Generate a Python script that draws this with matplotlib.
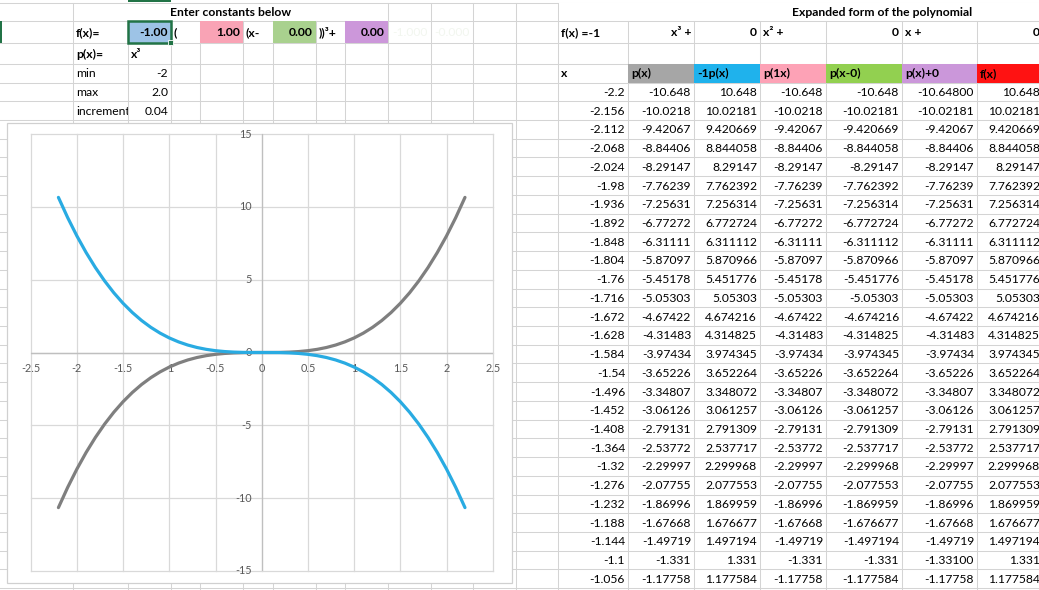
import matplotlib.pyplot as plt
from matplotlib.patches import Rectangle

plt.rcParams['font.family'] = ['Lato', 'DejaVu Sans']

# points of the two curves in the chart (p(x) = x^3 in grey, f(x) in blue)
curve_x = [-2.2, -2.1, -2.0, -1.9, -1.8, -1.7, -1.6, -1.5, -1.4, -1.3, -1.2, -1.1,
           -1.0, -0.9, -0.8, -0.7, -0.6, -0.5, -0.4, -0.3, -0.2, -0.1, 0.0,
           0.1, 0.2, 0.3, 0.4, 0.5, 0.6, 0.7, 0.8, 0.9, 1.0, 1.1, 1.2,
           1.3, 1.4, 1.5, 1.6, 1.7, 1.8, 1.9, 2.0, 2.1, 2.2]
curve_p = [-10.648, -9.261, -8.0, -6.859, -5.832, -4.913, -4.096, -3.375, -2.744, -2.197, -1.728, -1.331,
           -1.0, -0.729, -0.512, -0.343, -0.216, -0.125, -0.064, -0.027, -0.008, -0.001, 0.0,
           0.001, 0.008, 0.027, 0.064, 0.125, 0.216, 0.343, 0.512, 0.729, 1.0, 1.331, 1.728,
           2.197, 2.744, 3.375, 4.096, 4.913, 5.832, 6.859, 8.0, 9.261, 10.648]
curve_f = [10.648, 9.261, 8.0, 6.859, 5.832, 4.913, 4.096, 3.375, 2.744, 2.197, 1.728, 1.331,
           1.0, 0.729, 0.512, 0.343, 0.216, 0.125, 0.064, 0.027, 0.008, 0.001, 0.0,
           -0.001, -0.008, -0.027, -0.064, -0.125, -0.216, -0.343, -0.512, -0.729, -1.0, -1.331, -1.728,
           -2.197, -2.744, -3.375, -4.096, -4.913, -5.832, -6.859, -8.0, -9.261, -10.648]

x_ticks = [-2.5, -2, -1.5, -1, -0.5, 0, 0.5, 1, 1.5, 2, 2.5]
x_labels = ['-2.5', '-2', '-1.5', '-1', '-0.5', '0', '0.5', '1', '1.5', '2', '2.5']
y_ticks = [-15, -10, -5, 0, 5, 10, 15]
y_labels = ['-15', '-10', '-5', '0', '5', '10', '15']

# table on the right, as shown in the cells
tbl_x = ["-2.2", "-2.156", "-2.112", "-2.068", "-2.024", "-1.98", "-1.936", "-1.892", "-1.848",
         "-1.804", "-1.76", "-1.716", "-1.672", "-1.628", "-1.584", "-1.54", "-1.496", "-1.452",
         "-1.408", "-1.364", "-1.32", "-1.276", "-1.232", "-1.188", "-1.144", "-1.1", "-1.056"]
tbl_p = ["-10.648", "-10.0218", "-9.42067", "-8.84406", "-8.29147", "-7.76239", "-7.25631", "-6.77272",
         "-6.31111", "-5.87097", "-5.45178", "-5.05303", "-4.67422", "-4.31483", "-3.97434", "-3.65226",
         "-3.34807", "-3.06126", "-2.79131", "-2.53772", "-2.29997", "-2.07755", "-1.86996", "-1.67668",
         "-1.49719", "-1.331", "-1.17758"]
tbl_neg_p = ["10.648", "10.02181", "9.420669", "8.844058", "8.29147", "7.762392", "7.256314", "6.772724",
             "6.311112", "5.870966", "5.451776", "5.05303", "4.674216", "4.314825", "3.974345", "3.652264",
             "3.348072", "3.061257", "2.791309", "2.537717", "2.299968", "2.077553", "1.869959", "1.676677",
             "1.497194", "1.331", "1.177584"]
tbl_p1x = list(tbl_p)
tbl_pxm0 = ["-10.648", "-10.02181", "-9.420669", "-8.844058", "-8.29147", "-7.762392", "-7.256314",
            "-6.772724", "-6.311112", "-5.870966", "-5.451776", "-5.05303", "-4.674216", "-4.314825",
            "-3.974345", "-3.652264", "-3.348072", "-3.061257", "-2.791309", "-2.537717", "-2.299968",
            "-2.077553", "-1.869959", "-1.676677", "-1.497194", "-1.331", "-1.177584"]
tbl_pplus0 = ["-10.64800", "-10.02181", "-9.42067", "-8.84406", "-8.29147", "-7.76239", "-7.25631",
              "-6.77272", "-6.31111", "-5.87097", "-5.45178", "-5.05303", "-4.67422", "-4.31483",
              "-3.97434", "-3.65226", "-3.34807", "-3.06126", "-2.79131", "-2.53772", "-2.29997",
              "-2.07755", "-1.86996", "-1.67668", "-1.49719", "-1.33100", "-1.17758"]
tbl_f = list(tbl_neg_p)
tbl_headers = ['p(x)', '-1p(x)', 'p(1x)', 'p(x-0)', 'p(x)+0', 'f(x)']

W, H = 1039, 590
fig = plt.figure(figsize=(W / 100, H / 100), dpi=100)
bg = fig.add_axes([0, 0, 1, 1])
bg.set_xlim(0, W)
bg.set_ylim(H, 0)
bg.axis('off')

grid_c = '#d4d4d4'
fs = 8.7

# sheet geometry in pixels
cols = [73, 128, 171, 200, 243, 273, 316, 345, 388, 431, 473, 516, 558, 628, 694, 760, 826, 902, 977, 1043]
rows = [2.7, 20.7, 43, 64, 82.5] + [82.5 + 18.73 * k for k in range(1, 28)]

for y in rows:
    bg.plot([0, W], [y, y], color=grid_c, lw=0.75, zorder=1)
for x in cols:
    y0 = rows[1] if x not in (73, 388, 431, 473, 516, 558) else rows[0]
    bg.plot([x, x], [y0, H], color=grid_c, lw=0.75, zorder=1)


def cell_fill(x0, x1, r, color):
    bg.add_patch(Rectangle((x0, rows[r]), x1 - x0, rows[r + 1] - rows[r],
                           facecolor=color, edgecolor='none', zorder=2))


def cell_text(x, r, s, ha='left', bold=False, color='black', size=fs):
    yc = (rows[r] + rows[r + 1]) / 2 + 0.5
    xx = x + 3 if ha == 'left' else x - 3
    return bg.text(xx, yc, s, ha=ha, va='center', fontsize=size, color=color,
                   fontweight='bold' if bold else 'normal', zorder=4)


# constants row
cell_fill(128, 171, 1, '#9dc3e6')
cell_fill(200, 243, 1, '#f9a3b5')
cell_fill(273, 316, 1, '#a9d18e')
cell_fill(345, 388, 1, '#cc97da')

bg.text((73 + 388) / 2, (rows[0] + rows[1]) / 2 + 0.5, 'Enter constants below', ha='center',
        va='center', fontsize=fs, fontweight='bold', zorder=4)
cell_text(73, 1, 'f(x)=', bold=True)
cell_text(171, 1, '-1.00', ha='right', bold=True)
cell_text(171, 1, '(', bold=True)
cell_text(243, 1, '1.00', ha='right', bold=True)
cell_text(243, 1, '(x-', bold=True)
cell_text(316, 1, '0.00', ha='right', bold=True)
cell_text(316, 1, '))³+', bold=True)
cell_text(388, 1, '0.00', ha='right', bold=True)
cell_text(431, 1, '-1.000', ha='right', color='#f2f6ef')
cell_text(473, 1, '-0.000', ha='right', color='#f2f6ef')
cell_text(73, 2, 'p(x)=', bold=True)
cell_text(128, 2, 'x³', bold=True)
cell_text(73, 3, 'min')
cell_text(171, 3, '-2', ha='right')
cell_text(73, 4, 'max')
cell_text(171, 4, '2.0', ha='right')
t = cell_text(73, 5, 'increment')
clip = Rectangle((73, rows[5]), 55, rows[6] - rows[5], transform=bg.transData)
t.set_clip_path(clip)
t.set_clip_on(True)
cell_text(171, 5, '0.04', ha='right')

# selected cell
bg.add_patch(Rectangle((128, 21), 43, 22, fill=False, edgecolor='#217346', lw=1.8, zorder=5))
bg.add_patch(Rectangle((167.5, 39.5), 5.5, 5.5, facecolor='#217346', edgecolor='white', lw=0.6, zorder=6))
bg.add_patch(Rectangle((128, 0), 43, 2.2, facecolor='#217346', edgecolor='none', zorder=5))
bg.add_patch(Rectangle((0, 21), 2, 22, facecolor='#217346', edgecolor='none', zorder=5))

# expanded form on the right
bg.add_patch(Rectangle((559, rows[0] + 0.6), W - 559, rows[1] - rows[0] - 1.2,
                       facecolor='white', edgecolor='none', zorder=1.5))
bg.text(882, (rows[0] + rows[1]) / 2 + 0.5, 'Expanded form of the polynomial', ha='center',
        va='center', fontsize=fs, fontweight='bold', zorder=4)
cell_text(558, 1, 'f(x) =-1', bold=True)
cell_text(694, 1, 'x³ +', ha='right', bold=True)
cell_text(760, 1, '0', ha='right', bold=True)
cell_text(760, 1, 'x² +', bold=True)
cell_text(902, 1, '0', ha='right', bold=True)
cell_text(902, 1, 'x +', bold=True)
cell_text(1043, 1, '0', ha='right', bold=True)

head_colors = ['#a6a6a6', '#1fb2ec', '#fda2b6', '#92d050', '#cb97da', '#ff1212']
tcols = cols[12:]
cell_text(558, 3, 'x', bold=True)
for i, (h, c) in enumerate(zip(tbl_headers, head_colors)):
    cell_fill(tcols[i + 1], min(tcols[i + 2], W), 3, c)
    cell_text(tcols[i + 1], 3, h, bold=True)

table = [tbl_x, tbl_p, tbl_neg_p, tbl_p1x, tbl_pxm0, tbl_pplus0, tbl_f]
for j, column in enumerate(table):
    for k, s in enumerate(column):
        cell_text(tcols[j + 1], 4 + k, s, ha='right')

# chart object
bg.add_patch(Rectangle((7, 123), 505, 460, facecolor='white', edgecolor='#d0d0d0', lw=0.9, zorder=7))

ax = fig.add_axes([30.7 / W, (H - 571) / H, (492.7 - 30.7) / W, (571 - 134) / H])
ax.set_xlim(-2.5, 2.5)
ax.set_ylim(-15, 15)
ax.axis('off')
for xv in x_ticks:
    ax.axvline(xv, color='#d9d9d9', lw=0.9, zorder=1, clip_on=False)
for yv in y_ticks:
    ax.axhline(yv, color='#d9d9d9', lw=0.9, zorder=1, clip_on=False)
ax.axvline(0, color='#bfbfbf', lw=0.9, zorder=1.5)
ax.axhline(0, color='#bfbfbf', lw=1.0, zorder=1.5)

for xv, lab in zip(x_ticks, x_labels):
    ax.annotate(lab, (xv, 0), xytext=(0, -16.5), textcoords='offset pixels', ha='center',
                va='center', fontsize=7.8, color='#595959', zorder=2, annotation_clip=False)
for yv, lab in zip(y_ticks, y_labels):
    ax.annotate(lab, (0, yv), xytext=(-10, 0), textcoords='offset pixels', ha='right',
                va='center', fontsize=7.8, color='#595959', zorder=2, annotation_clip=False)

ax.plot(curve_x, curve_p, color='#7f7f7f', lw=2.3, solid_capstyle='round', zorder=3)
ax.plot(curve_x, curve_f, color='#29abe2', lw=2.3, solid_capstyle='round', zorder=3)

fig.savefig('out.png', dpi=100)
